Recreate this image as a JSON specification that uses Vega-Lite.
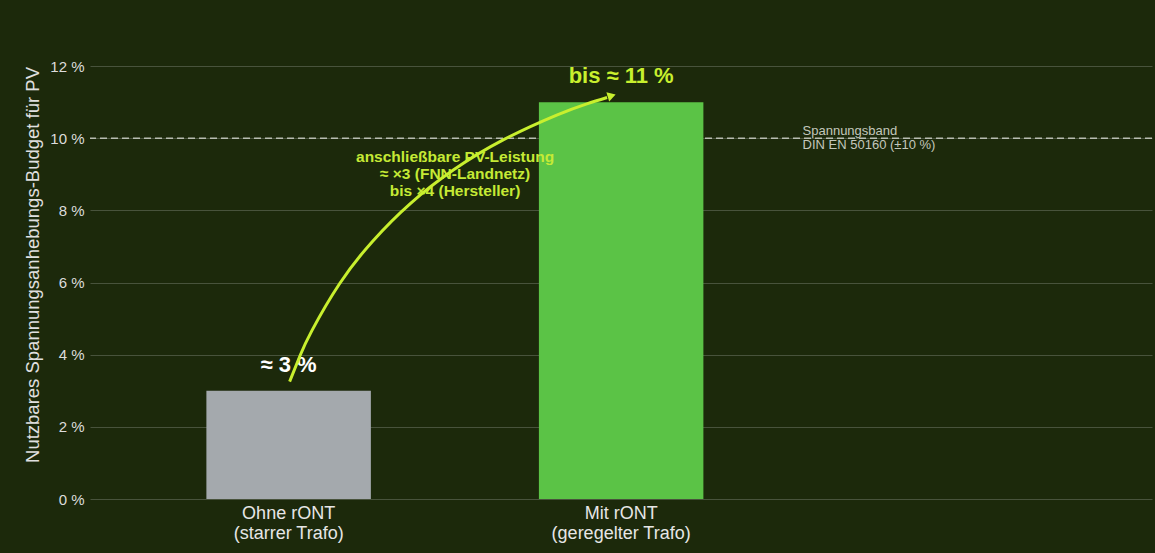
{
  "$schema": "https://vega.github.io/schema/vega-lite/v6.json",
  "width": 1062,
  "height": 469,
  "autosize": {"type": "none"},
  "padding": {"left": 90, "top": 30, "right": 3, "bottom": 54},
  "background": "#1c290b",
  "config": {
    "view": {"stroke": null},
    "font": "Liberation Sans",
    "axis": {"domain": false, "ticks": false}
  },
  "datasets": {
    "balken": [
      {"kategorie": "Ohne rONT\n(starrer Trafo)", "wert": 3, "label": "≈ 3 %"},
      {"kategorie": "Mit rONT\n(geregelter Trafo)", "wert": 11, "label": "bis ≈ 11 %"}
    ],
    "grenze": [{"wert": 10}],
    "bogen": [
      {"x": 0.0015, "y": 3.254},
      {"x": 0.0331, "y": 3.978},
      {"x": 0.0686, "y": 4.668},
      {"x": 0.1519, "y": 5.967},
      {"x": 0.2511, "y": 7.14},
      {"x": 0.366, "y": 8.197},
      {"x": 0.4968, "y": 9.132},
      {"x": 0.6436, "y": 9.947},
      {"x": 0.8063, "y": 10.641},
      {"x": 0.8971, "y": 10.954},
      {"x": 0.958, "y": 11.13}
    ],
    "spitze": [{"x": 0.972, "y": 11.18}],
    "band": [{"x": 1.547, "y": 10.0, "text": "Spannungsband\nDIN EN 50160 (±10 %)"}],
    "hinweis": [{"x": 0.5, "y": 9.02, "text": "anschließbare PV-Leistung\n≈ ×3 (FNN-Landnetz)\nbis ×4 (Hersteller)"}]
  },
  "layer": [
    {
      "data": {"name": "grenze"},
      "mark": {"type": "rule", "strokeDash": [7, 4], "color": "#b8bdb2", "strokeWidth": 1.5},
      "encoding": {
        "y": {"field": "wert", "type": "quantitative", "scale": {"domain": [0, 13], "nice": false}, "title": "Nutzbares Spannungsanhebungs-Budget für PV"}
      }
    },
    {
      "data": {"name": "balken"},
      "layer": [
        {
          "mark": {"type": "bar"},
          "encoding": {
            "x": {
              "field": "kategorie", "type": "nominal", "sort": null,
              "scale": {"paddingInner": 0.5053, "paddingOuter": 0.8496, "align": 0.206},
              "axis": {
                "title": null, "labelExpr": "split(datum.label, '\\n')", "labelAngle": 0,
                "labelPadding": 5, "labelFontSize": 18, "labelColor": "#e6e6e6",
                "labelLineHeight": 20, "grid": false, "labelBaseline": "top"
              }
            },
            "y": {
              "field": "wert", "type": "quantitative",
              "scale": {"domain": [0, 13], "nice": false},
              "title": "Nutzbares Spannungsanhebungs-Budget für PV",
              "axis": {
                "values": [0, 2, 4, 6, 8, 10, 12],
                "labelExpr": "datum.value + ' %'",
                "labelPadding": 6, "labelFontSize": 15, "labelColor": "#dcdcdc",
                "grid": true, "gridColor": "#48533c", "gridWidth": 1,
                "titleFontSize": 18.5, "titleColor": "#e0e0e0", "titleFontWeight": "normal",
                "titleX": -58, "titleY": 234.5, "titleBaseline": "middle", "titleAngle": 270
              }
            },
            "color": {
              "field": "kategorie", "type": "nominal", "legend": null,
              "scale": {"domain": ["Ohne rONT\n(starrer Trafo)", "Mit rONT\n(geregelter Trafo)"], "range": ["#a4a9ad", "#5bc346"]}
            }
          }
        },
        {
          "mark": {"type": "text", "fontWeight": "bold", "fontSize": 22, "dy": -19, "baseline": "alphabetic", "align": "center"},
          "encoding": {
            "x": {"field": "kategorie", "type": "nominal", "sort": null},
            "y": {"field": "wert", "type": "quantitative", "title": "Nutzbares Spannungsanhebungs-Budget für PV"},
            "text": {"field": "label"},
            "color": {
              "field": "kategorie", "type": "nominal", "legend": null,
              "scale": {"domain": ["Ohne rONT\n(starrer Trafo)", "Mit rONT\n(geregelter Trafo)"], "range": ["#ffffff", "#c8ef2e"]}
            }
          }
        }
      ],
      "resolve": {"scale": {"color": "independent"}}
    },
    {
      "layer": [
        {
          "data": {"name": "band"},
          "mark": {"type": "text", "align": "left", "baseline": "middle", "dy": -7, "fontSize": 13, "lineHeight": 14, "lineBreak": "\n", "color": "#c3c7bc"},
          "encoding": {
            "x": {"field": "x", "type": "quantitative", "scale": {"domain": [-0.6, 2.6], "nice": false, "zero": false}, "axis": null},
            "y": {"field": "y", "type": "quantitative", "title": "Nutzbares Spannungsanhebungs-Budget für PV"},
            "text": {"field": "text"}
          }
        },
        {
          "data": {"name": "hinweis"},
          "mark": {"type": "text", "align": "center", "baseline": "middle", "dy": -17, "fontSize": 15.5, "fontWeight": "bold", "lineHeight": 17, "lineBreak": "\n", "color": "#c5ea35"},
          "encoding": {
            "x": {"field": "x", "type": "quantitative", "axis": null},
            "y": {"field": "y", "type": "quantitative", "title": "Nutzbares Spannungsanhebungs-Budget für PV"},
            "text": {"field": "text"}
          }
        },
        {
          "data": {"name": "bogen"},
          "mark": {"type": "line", "interpolate": "natural", "strokeWidth": 3, "color": "#c8ef2e"},
          "encoding": {
            "x": {"field": "x", "type": "quantitative", "axis": null},
            "y": {"field": "y", "type": "quantitative", "title": "Nutzbares Spannungsanhebungs-Budget für PV"}
          }
        },
        {
          "data": {"name": "spitze"},
          "mark": {"type": "point", "shape": "triangle-right", "filled": true, "size": 90, "angle": 343, "color": "#c8ef2e", "opacity": 1},
          "encoding": {
            "x": {"field": "x", "type": "quantitative", "axis": null},
            "y": {"field": "y", "type": "quantitative", "title": "Nutzbares Spannungsanhebungs-Budget für PV"}
          }
        }
      ]
    }
  ],
  "resolve": {"scale": {"x": "independent"}}
}
